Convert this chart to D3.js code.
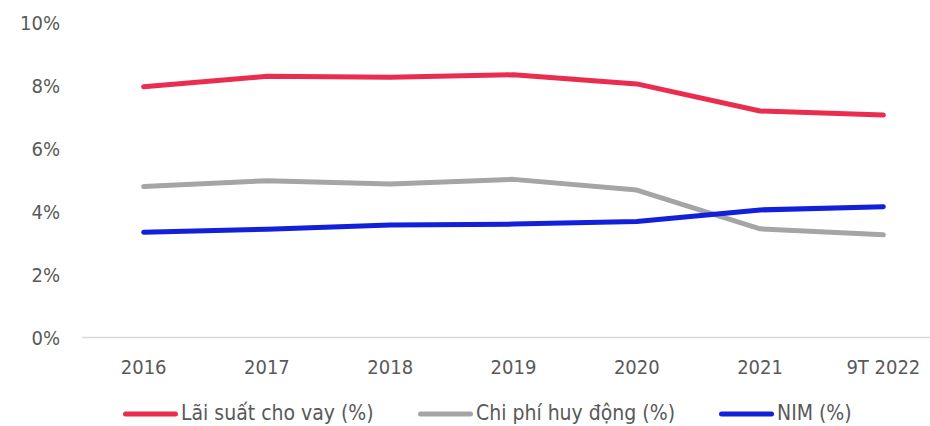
<!DOCTYPE html>
<html><head><meta charset="utf-8">
<script src="https://cdn.jsdelivr.net/npm/d3@7/dist/d3.min.js"></script>
<style>body{margin:0;background:#fff}svg{display:block}</style>
</head><body><svg id="c" width="930" height="426"></svg>
<script>
const categories = ["2016","2017","2018","2019","2020","2021","9T 2022"];
const laiSuat = [7.96, 8.29, 8.26, 8.34, 8.05, 7.19, 7.06];
const chiPhi = [4.79, 4.98, 4.87, 5.02, 4.68, 3.45, 3.26];
const nim = [3.34, 3.44, 3.57, 3.60, 3.68, 4.05, 4.15];
const yTicks = [0, 2, 4, 6, 8, 10];
const seriesNames = ["Lãi suất cho vay (%)", "Chi phí huy động (%)", "NIM (%)"];
const colors = ["#EA2C4E", "#A5A5A5", "#121FDB"];

const svg = d3.select("#c");
const font = "'DejaVu Sans Condensed', 'DejaVu Sans', sans-serif";
const x = d3.scaleBand().domain(categories).range([82, 945]);
const y = d3.scaleLinear().domain([0, 10]).range([337.5, 22.5]);

// y labels
svg.append("g").selectAll("text").data(yTicks).join("text")
  .attr("x", 60).attr("y", d => y(d)).attr("dy", "0.35em")
  .attr("text-anchor", "end").attr("fill", "#595959")
  .style("font-family", font).style("font-size", "20px")
  .text(d => d + "%");

// x axis line
svg.append("line").attr("x1", x.range()[0]).attr("x2", x.range()[1])
  .attr("y1", y(0)).attr("y2", y(0)).attr("stroke", "#D9D9D9").attr("stroke-width", 1.5);

// x labels
svg.append("g").selectAll("text").data(categories).join("text")
  .attr("x", d => x(d) + x.bandwidth() / 2).attr("y", 367).attr("dy", "0.35em")
  .attr("text-anchor", "middle").attr("fill", "#595959")
  .style("font-family", font).style("font-size", "20px")
  .text(d => d);

const line = d3.line().x((d, i) => x(categories[i]) + x.bandwidth() / 2).y(d => y(d));
[laiSuat, chiPhi, nim].forEach((s, k) => {
  svg.append("path").datum(s).attr("d", line).attr("fill", "none")
    .attr("stroke", colors[k]).attr("stroke-width", 5)
    .attr("stroke-linecap", "round").attr("stroke-linejoin", "round");
});

// legend
const legX = [123, 418, 719];
seriesNames.forEach((n, k) => {
  svg.append("line").attr("x1", legX[k] + 2.5).attr("x2", legX[k] + 52.5)
    .attr("y1", 414).attr("y2", 414).attr("stroke", colors[k])
    .attr("stroke-width", 5).attr("stroke-linecap", "round");
  svg.append("text").attr("x", legX[k] + 58).attr("y", 413).attr("dy", "0.35em")
    .attr("fill", "#595959").style("font-family", font).style("font-size", "21px")
    .text(n);
});
</script></body></html>
